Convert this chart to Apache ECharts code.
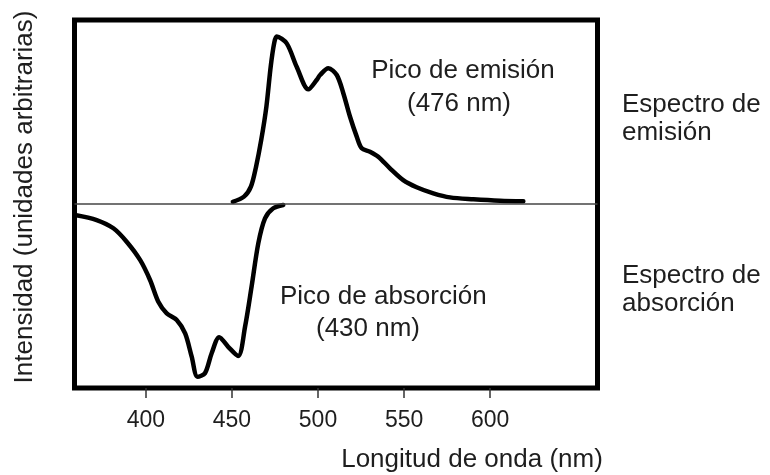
<!DOCTYPE html>
<html>
<head>
<meta charset="utf-8">
<script src="https://cdn.jsdelivr.net/npm/echarts@6/dist/echarts.min.js"></script>
<style>
  html, body { margin: 0; padding: 0; background: #fff; }
  #chart { width: 770px; height: 475px; }
</style>
</head>
<body>
<div id="chart"></div>
<script>
// Wavelength (nm) and relative intensity of the emission spectrum
const emissionNm = [450.5, 457, 461, 464, 467, 470, 472.5, 474.5, 476, 481.8, 487.6, 494.4, 499.2, 501.2, 506, 510.9, 514.7, 518.6, 522.5, 525.4, 530.2, 535, 541.8, 549.5, 557.3, 567, 576.7, 590.3, 605.8, 619.3];
const emissionVal = [0.012, 0.04, 0.094, 0.203, 0.348, 0.529, 0.746, 0.873, 0.91, 0.873, 0.746, 0.623, 0.674, 0.701, 0.738, 0.701, 0.602, 0.474, 0.366, 0.303, 0.284, 0.257, 0.194, 0.13, 0.091, 0.058, 0.036, 0.026, 0.018, 0.015];

// Absorption spectrum, drawn downward (negative values)
const absorptionNm = [358.8, 371.4, 381.1, 388.8, 396.6, 402.4, 407.2, 412.1, 417.9, 422.8, 426.6, 430, 434.3, 438.2, 442.6, 447.8, 453.6, 457.6, 461.4, 465.3, 469.2, 474, 479.8];
const absorptionVal = [-0.06, -0.087, -0.132, -0.205, -0.304, -0.413, -0.531, -0.594, -0.63, -0.703, -0.83, -0.939, -0.92, -0.811, -0.724, -0.776, -0.826, -0.667, -0.449, -0.214, -0.078, -0.023, -0.005];

// Wavelength tick labels
const xTicks = [400, 450, 500, 550, 600];

const FONT = '"Liberation Sans", Arial, sans-serif';
const TEXT_COLOR = '#1e1e1e';

const pairs = (xs, ys) => xs.map((x, i) => [x, ys[i]]);

const chart = echarts.init(document.getElementById('chart'), null, { renderer: 'canvas' });

function label(text, x, y, align, rotation) {
  return {
    type: 'text',
    x: x, y: y,
    rotation: rotation || 0,
    style: {
      text: text,
      font: '26px ' + FONT,
      fill: TEXT_COLOR,
      textAlign: align,
      textVerticalAlign: 'middle'
    }
  };
}

chart.setOption({
  animation: false,
  backgroundColor: '#fff',
  grid: {
    left: 74.5, right: 172.5, top: 20, bottom: 87,
    show: true,
    borderColor: '#000',
    borderWidth: 5,
    backgroundColor: '#fff'
  },
  xAxis: {
    type: 'value',
    min: 358.5,
    max: 662.4,
    axisLine: { show: false, onZero: false },
    splitLine: { show: false },
    axisTick: {
      show: true,
      customValues: xTicks,
      length: 10,
      inside: false,
      lineStyle: { color: '#333', width: 1.5 }
    },
    axisLabel: {
      customValues: xTicks,
      margin: 21,
      fontSize: 23,
      fontFamily: FONT,
      color: TEXT_COLOR
    }
  },
  yAxis: {
    type: 'value',
    min: -1,
    max: 1,
    show: false
  },
  series: [
    {
      name: 'Espectro de emisión',
      type: 'line',
      data: pairs(emissionNm, emissionVal),
      smooth: 0.3,
      showSymbol: false,
      lineStyle: { color: '#000', width: 4.5, cap: 'round', join: 'round' },
      markLine: {
        silent: true,
        symbol: 'none',
        label: { show: false },
        lineStyle: { color: '#444', width: 1.5, type: 'solid' },
        data: [{ yAxis: 0 }]
      },
      z: 3
    },
    {
      name: 'Espectro de absorción',
      type: 'line',
      data: pairs(absorptionNm, absorptionVal),
      smooth: 0.3,
      showSymbol: false,
      lineStyle: { color: '#000', width: 4.5, cap: 'round', join: 'round' },
      z: 3
    }
  ],
  graphic: [
    label('Intensidad (unidades arbitrarias)', 25, 197, 'center', Math.PI / 2),
    label('Longitud de onda (nm)', 472, 460, 'center'),
    label('Pico de emisión', 463, 71, 'center'),
    label('(476 nm)', 459, 104, 'center'),
    label('Pico de absorción', 280, 297, 'left'),
    label('(430 nm)', 368, 329, 'center'),
    label('Espectro de', 622, 105, 'left'),
    label('emisión', 622, 133, 'left'),
    label('Espectro de', 622, 276, 'left'),
    label('absorción', 622, 304, 'left')
  ]
});
</script>
</body>
</html>
